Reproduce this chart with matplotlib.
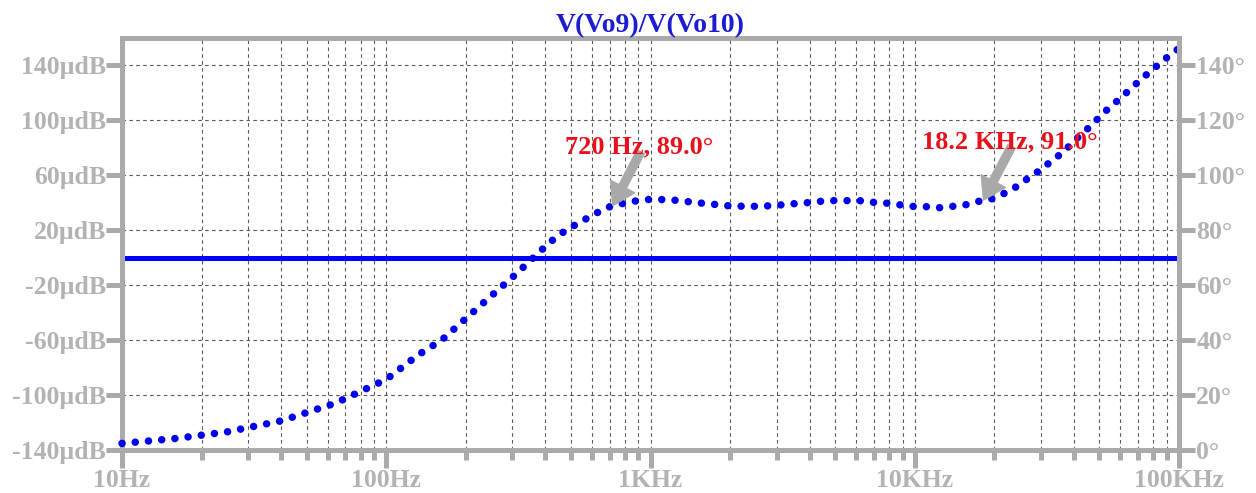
import matplotlib
matplotlib.use('Agg')
import matplotlib.pyplot as plt
from matplotlib.ticker import FixedLocator, LogLocator, NullFormatter

# phase of V(Vo9)/V(Vo10), degrees
freq_hz = [10, 16, 25, 40, 64, 100, 132, 162, 234, 306, 366, 402, 443, 490, 543,
           601, 669, 720, 839, 943, 1059, 1190, 1337, 1502, 1687, 1896, 2130, 2393,
           2688, 3020, 3393, 3811, 4340, 4873, 5483, 6158, 6918, 7770, 8728, 9800,
           11010, 12370, 13890, 15600, 18200, 19680, 22120, 24490, 26920, 29720,
           32520, 35720, 38990, 42560, 46700, 50940, 55710, 61190, 67130, 73490,
           80580, 88670, 97400, 100000]
phase_deg = [2.4, 4.2, 6.6, 10.6, 17.0, 25.7, 34.6, 40.0, 53.7, 63.6, 70.6, 74.3, 77.8,
             80.6, 83.0, 85.4, 87.8, 89.0, 90.3, 91.2, 91.2, 91.1, 90.6, 90.0, 89.6,
             89.0, 88.8, 88.7, 88.8, 89.1, 89.6, 89.9, 90.5, 90.8, 90.8, 90.8, 90.2,
             89.9, 89.3, 88.7, 88.6, 88.2, 88.7, 89.3, 91.0, 91.5, 93.7, 96.1, 99.0,
             101.8, 104.8, 107.8, 111.2, 114.9, 118.2, 122.1, 125.4, 128.8, 132.4,
             135.8, 139.0, 142.4, 145.4, 146.2]

# magnitude, micro-dB
mag_freq_hz = [10, 100000]
mag_udb = [0, 0]

mag_ticks = [-140, -100, -60, -20, 20, 60, 100, 140]
phase_ticks = [0, 20, 40, 60, 80, 100, 120, 140]
freq_ticks = [10, 100, 1000, 10000, 100000]
freq_labels = ['10Hz', '100Hz', '1KHz', '10KHz', '100KHz']

cursor_freq = [720, 18200]
cursor_phase = [89.0, 91.0]
cursor_text = ['720 Hz, 89.0\u00b0', '18.2 KHz, 91.0\u00b0']

plt.rcParams['font.family'] = ['Liberation Serif', 'DejaVu Serif']
plt.rcParams['font.weight'] = 'bold'

frame = '#aaaaaa'
label_grey = '#b3b3b3'

fig = plt.figure(figsize=(12.56, 4.93), dpi=100)
ax = fig.add_axes([122 / 1256, 1 - 450 / 493, (1179 - 122) / 1256, (450 - 38) / 493])
ax.set_xscale('log')
ax.set_xlim(10, 100000)
ax.set_ylim(-140, 160)

ax2 = ax.twinx()
ax2.set_ylim(0, 150)

for s in ax.spines.values():
    s.set_color(frame)
    s.set_linewidth(3.6)
for name, s in ax2.spines.items():
    s.set_visible(name == 'right')
    s.set_color(frame)
    s.set_linewidth(3.6)

ax.xaxis.set_major_locator(FixedLocator(freq_ticks))
ax.set_xticklabels(freq_labels)
ax.xaxis.set_minor_locator(LogLocator(base=10, subs=range(2, 10)))
ax.xaxis.set_minor_formatter(NullFormatter())
ax.yaxis.set_major_locator(FixedLocator(mag_ticks))
ax.set_yticklabels([f'{v}\u00b5dB' for v in mag_ticks])
ax2.yaxis.set_major_locator(FixedLocator(phase_ticks))
ax2.set_yticklabels([f'{v}\u00b0' for v in phase_ticks])

ax.tick_params(axis='y', which='major', direction='out', length=11.5, width=3.6,
               color=frame, labelcolor=label_grey, labelsize=18.5, pad=0)
ax.tick_params(axis='x', which='major', direction='out', length=13, width=3.6,
               color=frame, labelcolor=label_grey, labelsize=18.5, pad=1)
ax.tick_params(axis='x', which='minor', direction='out', length=7, width=3.6, color=frame)
ax2.tick_params(axis='y', which='major', direction='out', length=11.5, width=3.6,
                color=frame, labelcolor=label_grey, labelsize=18.5, pad=1)

grid_style = dict(color='#5a5a5a', linewidth=0.8, linestyle=(0, (3.2, 3)))
ax.grid(True, axis='x', which='both', **grid_style)
ax.grid(True, axis='y', which='major', **grid_style)

ax.plot(mag_freq_hz, mag_udb, color='#0000ff', linewidth=3.6, solid_capstyle='butt')
ax2.plot(freq_hz, phase_deg, color='#0000ee', linewidth=5.4,
         linestyle=(0, (0.01, 1.76)), dash_capstyle='round', clip_on=False)

for f, p, t in zip(cursor_freq, cursor_phase, cursor_text):
    ax2.annotate(t, xy=(f, p), xytext=(19, 42), textcoords='offset points',
                 ha='center', va='center', color='#e8101a', fontsize=19,
                 fontweight='bold',
                 arrowprops=dict(arrowstyle='simple,head_length=0.55,head_width=0.7,tail_width=0.21',
                                 color='#a9a9a9', shrinkA=0, shrinkB=0, mutation_scale=28,
                                 patchA=None, relpos=(0.51, 0.3)))

ax.set_title('V(Vo9)/V(Vo10)', color='#1c1cd0', fontsize=20, fontweight='bold', pad=4)

fig.savefig('out.png', dpi=100)
